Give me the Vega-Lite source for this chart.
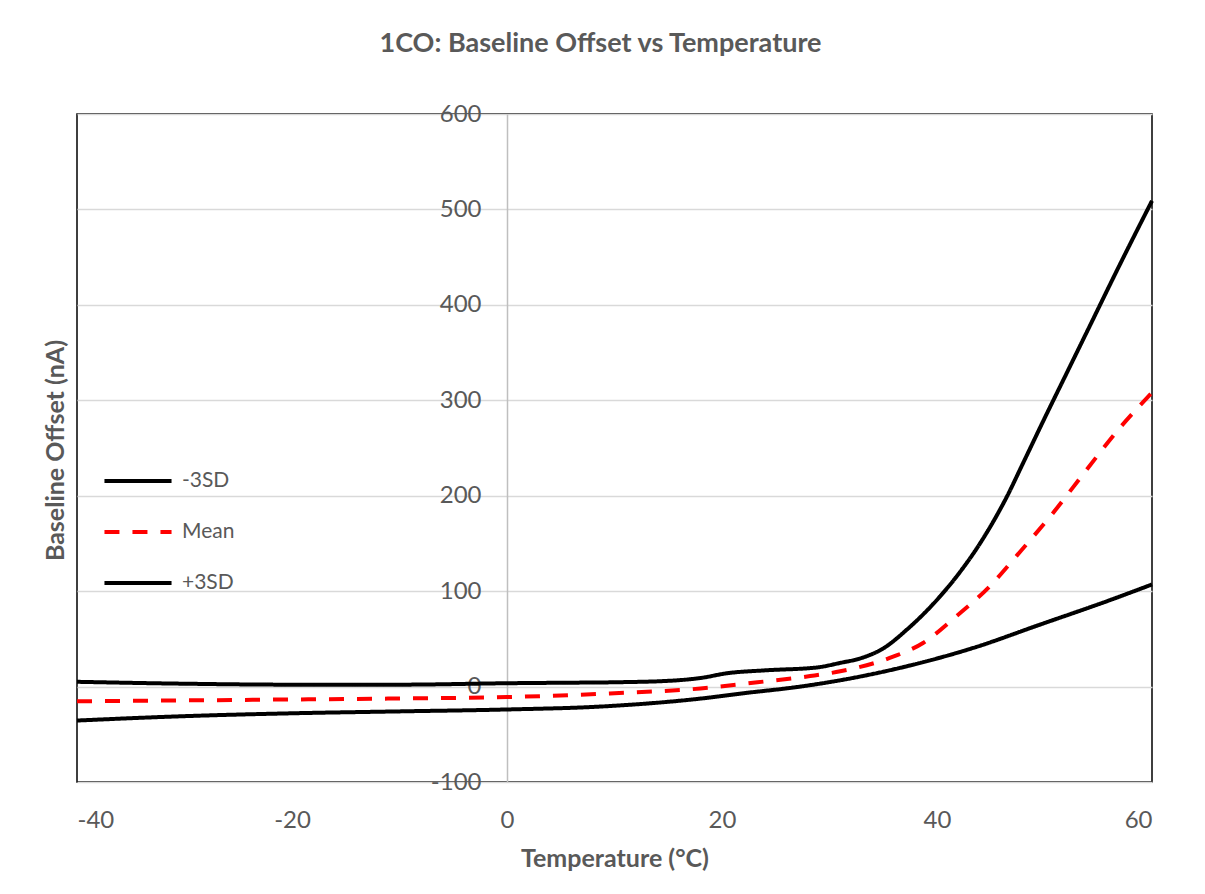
{
  "$schema": "https://vega.github.io/schema/vega-lite/v6.json",
  "width": 1075,
  "height": 668,
  "autosize": {"type": "none"},
  "padding": {"left": 77, "top": 114, "right": 53, "bottom": 112},
  "background": "white",
  "title": {
    "text": "1CO: Baseline Offset vs Temperature",
    "anchor": "middle",
    "offset": 44,
    "dx": -14,
    "font": "Lato",
    "fontSize": 27,
    "fontWeight": "bold",
    "color": "#595959"
  },
  "data": {
    "values": [
      {"t": -40, "v": 5, "s": "+3SD"},
      {"t": -30, "v": 3, "s": "+3SD"},
      {"t": -20, "v": 2, "s": "+3SD"},
      {"t": -10, "v": 2, "s": "+3SD"},
      {"t": 0, "v": 3.5, "s": "+3SD"},
      {"t": 5, "v": 4, "s": "+3SD"},
      {"t": 10, "v": 4.5, "s": "+3SD"},
      {"t": 15, "v": 6, "s": "+3SD"},
      {"t": 18, "v": 9, "s": "+3SD"},
      {"t": 20.5, "v": 14, "s": "+3SD"},
      {"t": 24, "v": 17, "s": "+3SD"},
      {"t": 28.8, "v": 20, "s": "+3SD"},
      {"t": 31, "v": 24.8, "s": "+3SD"},
      {"t": 33, "v": 30, "s": "+3SD"},
      {"t": 35, "v": 40, "s": "+3SD"},
      {"t": 37.2, "v": 59.7, "s": "+3SD"},
      {"t": 40.3, "v": 94.7, "s": "+3SD"},
      {"t": 42, "v": 118, "s": "+3SD"},
      {"t": 44, "v": 150, "s": "+3SD"},
      {"t": 46.5, "v": 199, "s": "+3SD"},
      {"t": 48, "v": 234, "s": "+3SD"},
      {"t": 50, "v": 281, "s": "+3SD"},
      {"t": 52, "v": 327, "s": "+3SD"},
      {"t": 54, "v": 373, "s": "+3SD"},
      {"t": 57, "v": 442, "s": "+3SD"},
      {"t": 60, "v": 509, "s": "+3SD"},
      {"t": -40, "v": -15.4, "s": "Mean"},
      {"t": -30, "v": -14.5, "s": "Mean"},
      {"t": -20, "v": -13.5, "s": "Mean"},
      {"t": -10, "v": -12.5, "s": "Mean"},
      {"t": 0, "v": -11, "s": "Mean"},
      {"t": 10, "v": -7, "s": "Mean"},
      {"t": 18, "v": -2, "s": "Mean"},
      {"t": 23.3, "v": 4.5, "s": "Mean"},
      {"t": 28.2, "v": 11, "s": "Mean"},
      {"t": 31, "v": 16, "s": "Mean"},
      {"t": 35.6, "v": 30, "s": "Mean"},
      {"t": 38.7, "v": 45.7, "s": "Mean"},
      {"t": 41.8, "v": 73.7, "s": "Mean"},
      {"t": 44.9, "v": 105, "s": "Mean"},
      {"t": 47.4, "v": 137, "s": "Mean"},
      {"t": 50.8, "v": 182, "s": "Mean"},
      {"t": 53.9, "v": 227, "s": "Mean"},
      {"t": 57, "v": 271, "s": "Mean"},
      {"t": 60, "v": 308, "s": "Mean"},
      {"t": -40, "v": -35.6, "s": "-3SD"},
      {"t": -30, "v": -31, "s": "-3SD"},
      {"t": -20, "v": -28, "s": "-3SD"},
      {"t": -10, "v": -26, "s": "-3SD"},
      {"t": 0, "v": -24, "s": "-3SD"},
      {"t": 8.6, "v": -21, "s": "-3SD"},
      {"t": 18, "v": -12.6, "s": "-3SD"},
      {"t": 22, "v": -7, "s": "-3SD"},
      {"t": 27.3, "v": 0, "s": "-3SD"},
      {"t": 31, "v": 6.6, "s": "-3SD"},
      {"t": 37.2, "v": 21.3, "s": "-3SD"},
      {"t": 43.4, "v": 40.6, "s": "-3SD"},
      {"t": 49.6, "v": 65, "s": "-3SD"},
      {"t": 55.8, "v": 89.4, "s": "-3SD"},
      {"t": 60, "v": 107, "s": "-3SD"}
    ]
  },
  "mark": {"type": "line", "interpolate": "monotone", "strokeWidth": 4},
  "encoding": {
    "x": {
      "field": "t",
      "type": "quantitative",
      "scale": {"domain": [-40, 60], "nice": false, "zero": false},
      "axis": {
        "title": "Temperature (°C)",
        "values": [-40, -20, 0, 20, 40, 60],
        "labelExpr": "'' + datum.value",
        "grid": false,
        "domain": false,
        "ticks": false,
        "labelPadding": 26,
        "labelFontSize": 24,
        "labelFont": "Lato",
        "labelColor": "#595959",
        "titleFont": "Lato",
        "titleFontSize": 25,
        "titleFontWeight": "bold",
        "titleColor": "#595959",
        "titlePadding": 14
      }
    },
    "y": {
      "field": "v",
      "type": "quantitative",
      "scale": {"domain": [-100, 600], "nice": false, "zero": false},
      "axis": {
        "title": "Baseline Offset (nA)",
        "values": [-100, 0, 100, 200, 300, 400, 500, 600],
        "labelExpr": "'' + datum.value",
        "offset": -430,
        "grid": true,
        "gridColor": "#d9d9d9",
        "gridWidth": 1.5,
        "domain": true,
        "domainColor": "#bfbfbf",
        "domainWidth": 1.5,
        "ticks": false,
        "labelPadding": 26,
        "labelFontSize": 24,
        "labelFont": "Lato",
        "labelColor": "#595959",
        "titleFont": "Lato",
        "titleFontSize": 25,
        "titleFontWeight": "bold",
        "titleColor": "#595959",
        "titleX": -439,
        "titleY": 336,
        "titleAlign": "center",
        "titleAngle": -90,
        "titleBaseline": "bottom"
      }
    },
    "color": {
      "field": "s",
      "type": "nominal",
      "scale": {"domain": ["-3SD", "Mean", "+3SD"], "range": ["#000000", "#ff0000", "#000000"]},
      "legend": {
        "title": null,
        "orient": "none",
        "legendX": 25,
        "legendY": 352,
        "symbolType": "stroke",
        "symbolSize": 4500,
        "symbolStrokeWidth": 4,
        "clipHeight": 30,
        "rowPadding": 21,
        "labelOffset": 8,
        "labelFont": "Lato",
        "labelFontSize": 21,
        "labelColor": "#595959"
      }
    },
    "strokeDash": {
      "field": "s",
      "type": "nominal",
      "scale": {"domain": ["-3SD", "Mean", "+3SD"], "range": [[1, 0], [15, 13], [1, 0]]},
      "legend": {
        "title": null,
        "orient": "none",
        "legendX": 25,
        "legendY": 352,
        "symbolType": "stroke",
        "symbolSize": 4500,
        "symbolStrokeWidth": 4,
        "clipHeight": 30,
        "rowPadding": 21,
        "labelOffset": 8,
        "labelFont": "Lato",
        "labelFontSize": 21,
        "labelColor": "#595959"
      }
    }
  },
  "config": {
    "view": {"stroke": "#000000", "strokeWidth": 1.5}
  }
}
